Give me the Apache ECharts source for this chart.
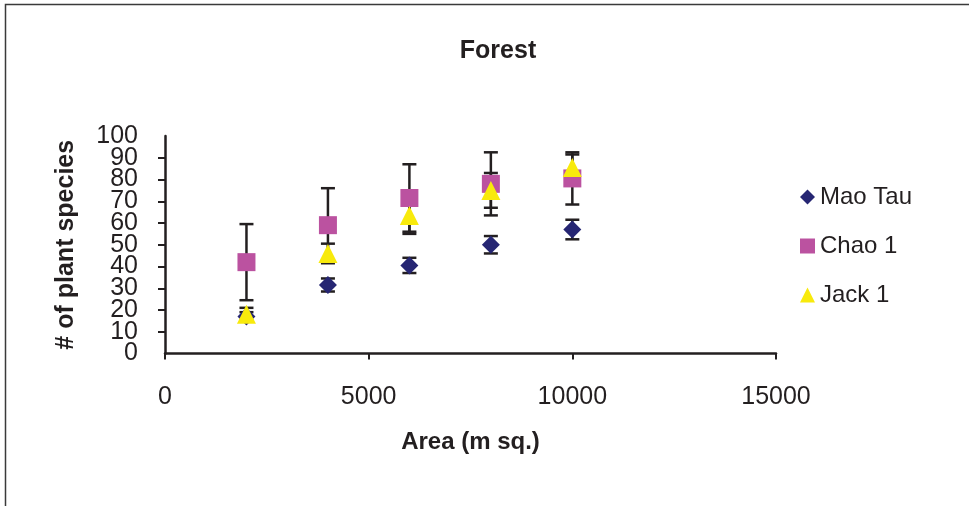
<!DOCTYPE html>
<html>
<head>
<meta charset="utf-8">
<script src="https://cdn.jsdelivr.net/npm/echarts@6/dist/echarts.min.js"></script>
<style>
html,body{margin:0;padding:0;background:#fff;}
#chart{width:969px;height:506px;}
</style>
</head>
<body>
<div id="chart"></div>
<script>
// ---- data ----
const titleText = 'Forest';
const xAxisName = 'Area (m sq.)';
const yAxisName = '# of plant species';
const seriesNames = ['Mao Tau', 'Chao 1', 'Jack 1'];
const areas = [2000, 4000, 6000, 8000, 10000];
const maoTau = [17, 31.5, 40.5, 50, 57];
const maoTauErr = [2, 3, 3.5, 4, 4.5];
const chao1 = [42, 59, 71.5, 78, 80.5];
const chao1Err = [17.5, 17, 15.5, 14.5, 12];
const jack1 = [18, 46, 63.5, 75, 85.5];
const jack1Err = [3, 4.5, 8.5, 8, 6];

const FONT = "'Liberation Sans', Arial, sans-serif";
const colors = ['#262673', '#BB52A0', '#F8EA0C'];
const symbols = ['diamond', 'rect', 'triangle'];
const symbolSizes = [18, 18, 19];

function pts(vals) { return areas.map((a, i) => [a, vals[i]]); }
function errPts(vals, errs) { return areas.map((a, i) => [a, vals[i], errs[i]]); }

function errRender(params, api) {
  const x = api.value(0), y = api.value(1), e = api.value(2);
  const top = api.coord([x, y + e]);
  const bot = api.coord([x, y - e]);
  const hw = 7;
  const st = { stroke: '#231f20', lineWidth: 2.5 };
  return {
    type: 'group',
    children: [
      { type: 'line', shape: { x1: top[0], y1: top[1], x2: bot[0], y2: bot[1] }, style: st },
      { type: 'line', shape: { x1: top[0] - hw, y1: top[1], x2: top[0] + hw, y2: top[1] }, style: st },
      { type: 'line', shape: { x1: bot[0] - hw, y1: bot[1], x2: bot[0] + hw, y2: bot[1] }, style: st }
    ]
  };
}

const valsList = [maoTau, chao1, jack1];
const errList = [maoTauErr, chao1Err, jack1Err];

const series = [];
valsList.forEach((v, i) => {
  series.push({
    name: seriesNames[i] + ' error',
    type: 'custom',
    renderItem: errRender,
    data: errPts(v, errList[i]),
    encode: { x: 0, y: 1 },
    z: 1,
    silent: true
  });
});
valsList.forEach((v, i) => {
  series.push({
    name: seriesNames[i],
    type: 'scatter',
    symbol: symbols[i],
    symbolSize: symbolSizes[i],
    itemStyle: { color: colors[i], opacity: 1 },
    data: pts(v),
    z: 3 + i
  });
});

const yLabelStyle = { margin: 27, fontFamily: FONT, fontSize: 25, color: '#231f20', hideOverlap: false,
  formatter: function (v) { return String(v); } };

const chart = echarts.init(document.getElementById('chart'), null, { renderer: 'canvas' });
chart.setOption({
  animation: false,
  backgroundColor: '#fff',
  title: {
    text: titleText,
    left: 493, top: 34,
    textAlign: 'center',
    textStyle: { fontFamily: FONT, fontSize: 25, fontWeight: 'bold', color: '#231f20' }
  },
  graphic: [{
    type: 'rect',
    shape: { x: 5.5, y: 4.5, width: 2000, height: 2000 },
    style: { fill: 'none', stroke: '#3a3a3a', lineWidth: 1.5 },
    z: -10, silent: true
  }],
  legend: {
    orient: 'vertical',
    left: 795, top: 180,
    itemWidth: 15, itemHeight: 15,
    itemGap: 25,
    data: seriesNames,
    textStyle: { fontFamily: FONT, fontSize: 24, color: '#231f20', lineHeight: 24 }
  },
  grid: { left: 165, right: 193, top: 136, bottom: 152.5 },
  xAxis: {
    type: 'value',
    min: 0, max: 15000, interval: 5000,
    name: xAxisName,
    nameLocation: 'middle',
    nameGap: 77,
    nameTextStyle: { fontFamily: FONT, fontSize: 24, fontWeight: 'bold', color: '#231f20' },
    splitLine: { show: false },
    axisLine: { lineStyle: { color: '#231f20', width: 2.5 } },
    axisTick: { show: true, inside: false, length: 6, lineStyle: { color: '#231f20', width: 2 } },
    axisLabel: {
      margin: 31, fontFamily: FONT, fontSize: 25, color: '#231f20',
      showMinLabel: true, showMaxLabel: true, hideOverlap: false,
      formatter: function (v) { return String(v); }
    }
  },
  yAxis: [{
    type: 'value',
    min: 0, max: 100, interval: 10,
    position: 'left',
    name: yAxisName,
    nameLocation: 'middle',
    nameGap: 86,
    nameTextStyle: { fontFamily: FONT, fontSize: 25, fontWeight: 'bold', color: '#231f20' },
    splitLine: { show: false },
    axisLine: { show: true, lineStyle: { color: '#231f20', width: 2.5 } },
    axisTick: { show: true, inside: false, length: 7, lineStyle: { color: '#231f20', width: 2 } },
    axisLabel: Object.assign({ showMinLabel: false, showMaxLabel: false }, yLabelStyle)
  }, {
    type: 'value',
    min: 0, max: 100, interval: 100,
    position: 'left',
    offset: 0,
    splitLine: { show: false },
    axisLine: { show: false },
    axisTick: { show: false },
    axisLabel: Object.assign({ showMinLabel: true, showMaxLabel: true }, yLabelStyle)
  }],
  series: series
});
</script>
</body>
</html>
